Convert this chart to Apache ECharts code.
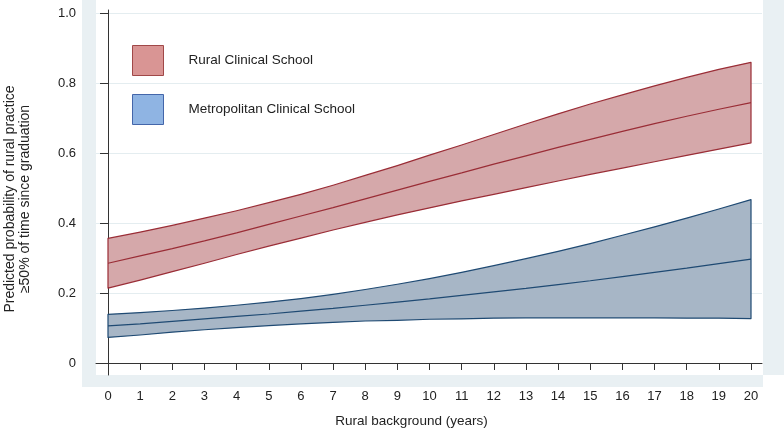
<!DOCTYPE html>
<html>
<head>
<meta charset="utf-8">
<script src="https://cdn.jsdelivr.net/npm/echarts@6/dist/echarts.min.js"></script>
<style>
html,body{margin:0;padding:0;background:#fff;}
#chart{width:784px;height:430px;}
</style>
</head>
<body>
<div id="chart"></div>
<script>
// ---- data ----
const years = [0,1,2,3,4,5,6,7,8,9,10,11,12,13,14,15,16,17,18,19,20];
const ruralMid  = [0.285,0.306,0.327,0.349,0.372,0.396,0.420,0.444,0.469,0.494,0.519,0.543,0.568,0.592,0.616,0.639,0.662,0.684,0.705,0.725,0.744];
const ruralLow  = [0.214,0.237,0.261,0.285,0.310,0.334,0.357,0.380,0.402,0.423,0.443,0.463,0.482,0.501,0.520,0.539,0.557,0.575,0.593,0.611,0.629];
const ruralHigh = [0.356,0.374,0.393,0.414,0.435,0.458,0.482,0.508,0.536,0.564,0.594,0.623,0.653,0.683,0.712,0.740,0.766,0.792,0.816,0.839,0.859];
const metroMid  = [0.106,0.112,0.119,0.126,0.133,0.140,0.148,0.156,0.165,0.174,0.183,0.193,0.203,0.213,0.224,0.235,0.247,0.259,0.271,0.284,0.297];
const metroLow  = [0.073,0.080,0.088,0.095,0.101,0.107,0.112,0.116,0.120,0.122,0.125,0.126,0.128,0.129,0.129,0.129,0.129,0.129,0.128,0.128,0.127];
const metroHigh = [0.139,0.144,0.150,0.157,0.165,0.174,0.184,0.196,0.210,0.225,0.241,0.259,0.278,0.298,0.319,0.341,0.365,0.389,0.414,0.440,0.467];
const yTicks = [0,0.2,0.4,0.6,0.8,1.0];
const yTickLabels = ['0','0.2','0.4','0.6','0.8','1.0'];
const seriesNames = ['Rural Clinical School','Metropolitan Clinical School'];
const xTitle = 'Rural background (years)';
const yTitle = 'Predicted probability of rural practice\n\u226550% of time since graduation';

const FONT = '"Liberation Sans", Arial, sans-serif';
const C = {
  ruralFill:'#d5a8aa', ruralLine:'#9a2d36',
  metroFill:'#a7b6c6', metroLine:'#1f4a73',
  ruralLeg:'#d99594', ruralLegB:'#a04848',
  metroLeg:'#8fb4e3', metroLegB:'#4466aa',
  frame:'#e9f0f3', grid:'#e4edf0', axis:'#333333', text:'#222222'
};

function band(low, high, fill, stroke) {
  return function (params, api) {
    if (params.dataIndex !== 0) return null;
    const pts = [];
    for (let i = 0; i < years.length; i++) pts.push(api.coord([years[i], high[i]]));
    for (let i = years.length - 1; i >= 0; i--) pts.push(api.coord([years[i], low[i]]));
    return {type:'polygon', shape:{points:pts}, style:{fill:fill, stroke:stroke, lineWidth:1.2, lineJoin:'round'}};
  };
}

const chart = echarts.init(document.getElementById('chart'), null, {renderer:'canvas'});
chart.setOption({
  animation:false,
  backgroundColor:'#ffffff',
  graphic:[
    {type:'rect', z:-10, shape:{x:82, y:0, width:14, height:387}, style:{fill:C.frame}},
    {type:'rect', z:-10, shape:{x:82, y:375, width:681, height:12}, style:{fill:C.frame}},
    {type:'rect', z:-10, shape:{x:763, y:0, width:21, height:375}, style:{fill:C.frame}},
    {type:'text', x:17.5, y:199, rotation:Math.PI/2,
      style:{text:yTitle, font:'14px ' + FONT, fill:C.text, textAlign:'center', textVerticalAlign:'middle', lineHeight:15}},
    {type:'text', x:411.5, y:421,
      style:{text:xTitle, font:'13.5px ' + FONT, fill:C.text, textAlign:'center', textVerticalAlign:'middle'}}
  ],
  legend:{
    left:132, top:45, orient:'vertical', itemWidth:31, itemHeight:30, itemGap:18,
    selectedMode:false, icon:'rect', padding:0,
    textStyle:{fontFamily:FONT, fontSize:13.5, color:C.text, padding:[0,0,0,20]},
    data:[
      {name:seriesNames[0], icon:'rect', itemStyle:{color:C.ruralLeg, borderColor:C.ruralLegB, borderWidth:1}},
      {name:seriesNames[1], icon:'rect', itemStyle:{color:C.metroLeg, borderColor:C.metroLegB, borderWidth:1}}
    ]
  },
  grid:{left:96, right:22, top:10, bottom:55, containLabel:false},
  xAxis:{
    type:'value', min:-0.3733, max:20.342,
    axisLine:{show:true, lineStyle:{color:C.axis, width:1}},
    axisTick:{show:true, length:7, customValues:years, lineStyle:{color:C.axis}},
    axisLabel:{customValues:years, margin:15, fontFamily:FONT, fontSize:13, color:C.text},
    splitLine:{show:false}
  },
  yAxis:{
    type:'value', min:-0.0343, max:1.0086,
    axisLine:{show:true, lineStyle:{color:C.axis, width:1}},
    axisTick:{show:true, length:8, customValues:yTicks, lineStyle:{color:C.axis}},
    axisLabel:{customValues:yTicks, margin:20, fontFamily:FONT, fontSize:13, color:C.text,
      padding:[0,0,12,0],
      formatter:function(v){ const i = yTicks.findIndex(t => Math.abs(t - v) < 1e-6); return i >= 0 ? yTickLabels[i] : ''; }},
    splitLine:{show:true, lineStyle:{color:C.grid, width:1}}
  },
  series:[
    {name:seriesNames[0], type:'custom', z:2, itemStyle:{color:C.ruralLeg},
      renderItem:band(ruralLow, ruralHigh, C.ruralFill, C.ruralLine),
      data:years.map((x,i)=>[x, ruralLow[i], ruralHigh[i]]), encode:{x:0, y:[1,2]}},
    {name:seriesNames[1], type:'custom', z:2, itemStyle:{color:C.metroLeg},
      renderItem:band(metroLow, metroHigh, C.metroFill, C.metroLine),
      data:years.map((x,i)=>[x, metroLow[i], metroHigh[i]]), encode:{x:0, y:[1,2]}},
    {name:'ruralMidLine', type:'line', z:3, symbol:'none', silent:true,
      lineStyle:{color:C.ruralLine, width:1.2}, data:years.map((x,i)=>[x, ruralMid[i]])},
    {name:'metroMidLine', type:'line', z:3, symbol:'none', silent:true,
      lineStyle:{color:C.metroLine, width:1.2}, data:years.map((x,i)=>[x, metroMid[i]])}
  ]
});
</script>
</body>
</html>
